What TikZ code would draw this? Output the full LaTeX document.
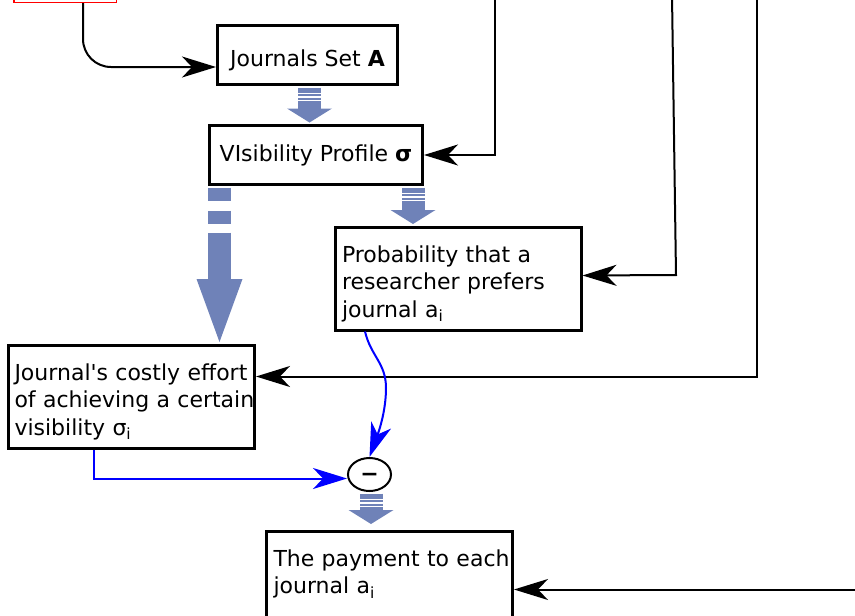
\documentclass[tikz,border=0pt]{standalone}
\usepackage{fontspec}
\setmainfont{DejaVu Sans}[Ligatures=TeXOff]
\usepackage{xcolor}
\usetikzlibrary{arrows.meta,calc,shapes.geometric}
\definecolor{fatblue}{HTML}{6F82B8}

\tikzset{
  every node/.style={font=\fontsize{22}{27.5}\selectfont},
  titlebox/.style={draw, line width=3pt, minimum height=59pt, inner sep=0pt,
    text height=18pt, text depth=4.5pt},
  textbox/.style={draw, line width=3pt, text width=232pt, align=left,
    inner xsep=7pt, inner ysep=8pt, text height=27pt, text depth=60pt,
    execute at begin node={\hsize=260pt}},
  wire/.style={line width=2pt, -{Stealth[length=34pt,width=21pt,inset=10pt]}},
  bluewire/.style={wire, blue},
  fat/.style={draw=fatblue, line width=23pt, shorten <=1.5pt, shorten >=1.5pt,
    dash pattern=on 5pt off 1.5pt on 2pt off 1.5pt on 2pt off 1.5pt on 80pt,
    -{Triangle[width=45pt,length=14pt,line width=0pt]}}
}

\begin{document}
\begin{tikzpicture}[x=1pt, y=1pt]
  \useasboundingbox (0,0) rectangle (855,-616);

  % Boxes
  \node[draw=red, line width=1.5pt, minimum width=102.5pt, minimum height=40pt] (input) at (65,17.75) {};
  \node[titlebox, minimum width=180pt, text height=22pt, text depth=0pt] (journals) at (307.5,-55) {Journals Set \textbf{A}};
  \node[titlebox, minimum width=213pt] (visibility) at (316,-155) {VIsibility Profile \textbf{σ}};
  \node[textbox] (prob) at (458,-278.5) {Probability that a\\researcher prefers\\journal a\textsubscript{i}};
  \node[textbox, inner xsep=6pt, text width=234pt] (effort) at (131.5,-396.5) {Journal's costly effort\\of achieving a certain\\visibility σ\textsubscript{i}};
  \node[draw, ellipse, line width=2pt, minimum width=43pt, minimum height=33pt, inner sep=0pt,
    text height=14pt, text depth=0pt] (minus) at (369.5,-474.5) {\textbf{−}};
  \node[textbox] (payment) at (389.5,-582.5) {The payment to each\\journal a\textsubscript{i}};

  % Incoming lines
  \coordinate (topA) at (495,5);
  \coordinate (topB) at (672,5);
  \coordinate (topC) at (757,5);
  \coordinate (rightD) at (860,-589.5);

  \draw[wire, rounded corners=28pt] ($(input.south)+(18,0)$) |- ($(journals.west)+(0,-12)$);
  \draw[wire] (topA) |- (visibility.east);
  \draw[wire] (topB) -- ++(4,-280) -- ($(prob.east)+(0,3)$);
  \draw[wire] (topC) |- ($(effort.east)+(0,20)$);
  \draw[wire] (rightD) -- (rightD -| payment.east);

  % Blue lines
  \draw[bluewire] ($(effort.south)+(-37.5,0)$) |- ($(minus.west)+(0,-4)$);
  \draw[bluewire] ($(prob.south)+(-93,0)$) .. controls +(6,-25) and +(0,25) .. (386,-388)
    .. controls +(0,-25) and +(8,22) .. (minus.north);

  % Fat arrows
  \draw[fat] ($(journals.south)+(2,0)$) -- ($(visibility.north)+(-6.5,0)$);
  \draw[fat] ($(visibility.south)+(97,0)$) -- ($(prob.north)+(-45,0)$);
  \draw[fat, dash pattern=on 13pt off 10pt on 13pt off 9pt on 200pt,
    -{Triangle[width=46pt,length=63pt,line width=0pt]}]
    ($(visibility.south)+(-96.5,0)$) -- ($(effort.north)+(88,0)$);
  \draw[fat, shorten >=5.5pt] ($(minus.south)+(1.5,0)$) -- ($(payment.north)+(-18.5,0)$);
\end{tikzpicture}
\end{document}
